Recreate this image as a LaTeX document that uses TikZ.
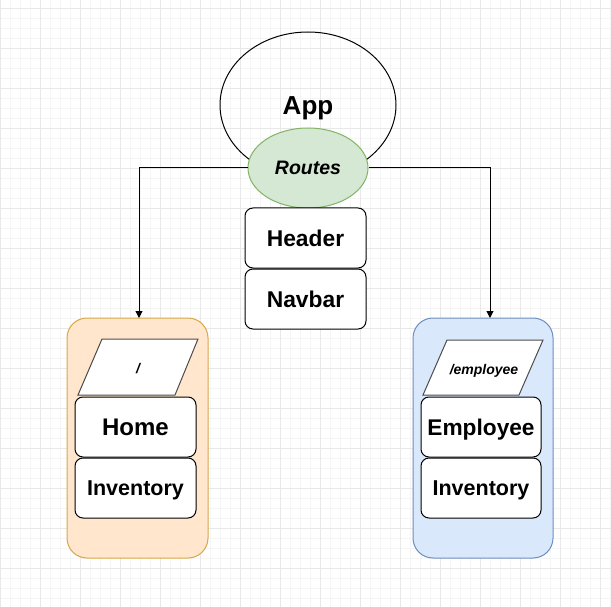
\documentclass[tikz,border=0pt]{standalone}
\usepackage{fontspec}
\setmainfont{Liberation Sans}
\usetikzlibrary{shapes.geometric}
\usetikzlibrary{positioning}
\usetikzlibrary{arrows.meta}
\definecolor{gridminor}{HTML}{F5F5F5}
\definecolor{gridmajor}{HTML}{E8E8E8}
\definecolor{routefill}{HTML}{D5E8D4}
\definecolor{routeline}{HTML}{82B366}
\definecolor{homefill}{HTML}{FFE6CC}
\definecolor{homeline}{HTML}{D6A846}
\definecolor{empfill}{HTML}{DAE8FC}
\definecolor{empline}{HTML}{6C8EBF}
\tikzset{
  comp/.style={draw,fill=white,rounded corners=8pt,inner sep=0pt,
    minimum width=121pt,minimum height=60pt,text depth=0pt},
  container/.style={rounded corners=20pt,inner sep=0pt,
    minimum width=141pt,minimum height=240pt},
  routepath/.style={draw=black!70,fill=white},
  flow/.style={-{Triangle[length=7pt,width=7pt]}}
}

\begin{document}
\begin{tikzpicture}[x=1pt,y=-1pt,line width=1pt]
		\useasboundingbox (0,0) rectangle (611,607);
		\fill[white] (0,0) rectangle (611,607);
		% grid
		\foreach \gx in {10,20,...,610} \draw[gridminor,line width=0.8pt] (\gx,0) -- (\gx,607);
		\foreach \gy in {8,18,...,606} \draw[gridminor,line width=0.8pt] (0,\gy) -- (611,\gy);
		\foreach \gx in {0,40,...,600} \draw[gridmajor,line width=0.8pt] (\gx,0) -- (\gx,607);
		\foreach \gy in {8,48,...,568} \draw[gridmajor,line width=0.8pt] (0,\gy) -- (611,\gy);
		% app and routes
		\node[draw,ellipse,inner sep=0pt,minimum width=176pt,minimum height=146pt,
			text height=18.6pt,text depth=0pt,font=\bfseries\fontsize{26}{26}\selectfont] (app) at (308,105) {App};
		\node[draw=routeline,fill=routefill,ellipse,inner sep=0pt,minimum width=120pt,minimum height=80pt,
			text height=14pt,text depth=0pt,font=\bfseries\itshape\fontsize{19.5}{19.5}\selectfont] (routes) at (308,168) {Routes};
		\node[comp,text height=16.2pt,font=\bfseries\fontsize{22.8}{22.8}\selectfont] (header) at (305.5,238) {Header};
		\node[comp,text height=16.2pt,font=\bfseries\fontsize{22.8}{22.8}\selectfont,below=0pt of header] (navbar) {Navbar};
		% home route
		\node[container,draw=homeline,fill=homefill] (homecont) at (137.5,438) {};
		\draw[routepath] (78,395) -- (102,339) -- (198,339) -- (175,395) -- cycle;
		\node[text height=10pt,text depth=0pt,font=\bfseries\itshape\fontsize{14}{14}\selectfont] (homepath) at (138,368) {/};
		\node[comp,text height=17.2pt,font=\bfseries\fontsize{24}{24}\selectfont] (home) at (135.5,427) {Home};
		\node[comp,text height=15.4pt,font=\bfseries\fontsize{21.5}{21.5}\selectfont,below=0pt of home] (homeinv) {Inventory};
		% employee route
		\node[container,draw=empline,fill=empfill,minimum width=140pt] (empcont) at (483,438) {};
		\draw[routepath] (423,395) -- (447,340) -- (543,340) -- (519,395) -- cycle;
		\node[text height=10pt,text depth=0pt,font=\bfseries\itshape\fontsize{14}{14}\selectfont] (emppath) at (484,369) {/employee};
		\node[comp,minimum width=120pt,text height=16.2pt,font=\bfseries\fontsize{22.7}{22.7}\selectfont] (employee) at (481,427) {Employee};
		\node[comp,minimum width=120pt,text height=15.4pt,font=\bfseries\fontsize{21.5}{21.5}\selectfont,below=0pt of employee] (empinv) {Inventory};
		% connectors
		\coordinate (homein) at (139,318);
		\coordinate (empin) at (490,318);
		\draw[flow] (routes.west) -| (homein);
		\draw[flow] (routes.east) -| (empin);
\end{tikzpicture}
\end{document}
